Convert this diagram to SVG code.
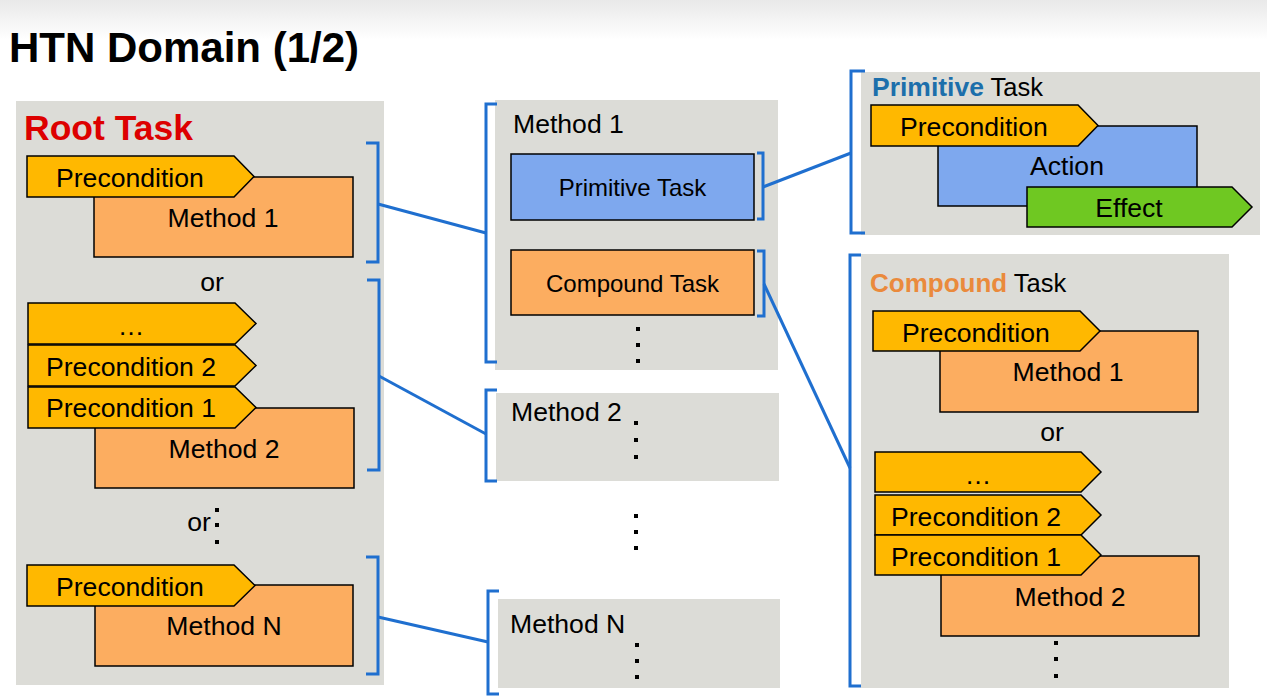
<svg xmlns="http://www.w3.org/2000/svg" width="1267" height="698" viewBox="0 0 1267 698">
<defs>
<linearGradient id="topbg" x1="0" y1="0" x2="0" y2="1">
<stop offset="0" stop-color="#e9e9e9"/>
<stop offset="1" stop-color="#ffffff"/>
</linearGradient>
</defs>
<style>
text{font-family:"Liberation Sans",Arial,sans-serif;fill:#000}
.panel{fill:#dcdcd7}
.pre{fill:#ffb800;stroke:#000;stroke-width:1.5}
.meth{fill:#fcad60;stroke:#000;stroke-width:1.5}
.blue{fill:#7ea8ee;stroke:#000;stroke-width:1.5}
.green{fill:#6fc822;stroke:#000;stroke-width:1.5}
.br{fill:none;stroke:#1f6fcf;stroke-width:3}
.con{fill:none;stroke:#1f6fcf;stroke-width:3}
.t26{font-size:26.6px}
.t23{font-size:24px}
.dot{fill:#000}
</style>
<rect x="0" y="0" width="1267" height="698" fill="#ffffff"/>
<rect x="0" y="0" width="1267" height="40" fill="url(#topbg)"/>
<text x="9" y="62" font-size="42" font-weight="bold">HTN Domain (1/2)</text>

<g id="root-task">
<rect class="panel" x="16" y="101" width="368" height="584"/>
<text x="24" y="140" font-size="35.5" font-weight="bold" style="fill:#dd0000">Root Task</text>
<rect class="meth" x="94" y="177" width="259" height="80"/>
<polygon class="pre" points="27,156 234,156 254,176.5 234,197 27,197"/>
<text class="t26" x="56" y="187">Precondition</text>
<text class="t26" x="223" y="227" text-anchor="middle">Method 1</text>
<text class="t26" x="212" y="291" text-anchor="middle">or</text>
<rect class="meth" x="95" y="408" width="259" height="80"/>
<polygon class="pre" points="28,303 235,303 256,323.5 235,344 28,344"/>
<polygon class="pre" points="28,345 235,345 256,365.5 235,386 28,386"/>
<polygon class="pre" points="28,387 235,387 256,407.5 235,428 28,428"/>
<text class="t26" x="131" y="335" text-anchor="middle">…</text>
<text class="t26" x="46" y="376">Precondition 2</text>
<text class="t26" x="46" y="417">Precondition 1</text>
<text class="t26" x="224" y="458" text-anchor="middle">Method 2</text>
<text class="t26" x="199" y="531" text-anchor="middle">or</text>
<rect class="dot" x="215" y="508" width="4" height="4"/>
<rect class="dot" x="215" y="523" width="4" height="4"/>
<rect class="dot" x="215" y="540" width="4" height="4"/>
<rect class="meth" x="95" y="585" width="258" height="81"/>
<polygon class="pre" points="27,565 234,565 255,585.5 234,606 27,606"/>
<text class="t26" x="56" y="596">Precondition</text>
<text class="t26" x="224" y="635" text-anchor="middle">Method N</text>
<path class="br" d="M366,143 H378 V262 H366"/>
<path class="br" d="M367,280 H379 V470 H367"/>
<path class="br" d="M366,557 H378 V674 H366"/>
</g>

<g id="method1">
<rect class="panel" x="495" y="100" width="283" height="270"/>
<path class="br" d="M497,104 H486 V362 H497"/>
<text class="t26" x="513" y="133">Method 1</text>
<rect class="blue" x="511" y="154" width="243" height="66"/>
<text class="t23" x="632.5" y="196" text-anchor="middle">Primitive Task</text>
<rect class="meth" x="511" y="250" width="243" height="65"/>
<text class="t23" x="632.5" y="292" text-anchor="middle">Compound Task</text>
<path class="br" d="M757,153 H763 V219 H757"/>
<path class="br" d="M757,251 H764 V316 H757"/>
<rect class="dot" x="636" y="327" width="4" height="4"/>
<rect class="dot" x="636" y="343" width="4" height="4"/>
<rect class="dot" x="636" y="359" width="4" height="4"/>
</g>

<g id="method2">
<rect class="panel" x="496" y="393" width="283" height="88"/>
<path class="br" d="M497,390 H486 V481 H497"/>
<text class="t26" x="511" y="421">Method 2</text>
<rect class="dot" x="634" y="421" width="4" height="4"/>
<rect class="dot" x="634" y="438" width="4" height="4"/>
<rect class="dot" x="634" y="455" width="4" height="4"/>
</g>

<g id="method-gap">
<rect class="dot" x="634" y="514" width="4" height="4"/>
<rect class="dot" x="634" y="530" width="4" height="4"/>
<rect class="dot" x="634" y="546" width="4" height="4"/>
</g>

<g id="methodN">
<rect class="panel" x="498" y="599" width="282" height="89"/>
<path class="br" d="M499,591 H488 V694 H499"/>
<text class="t26" x="510" y="633">Method N</text>
<rect class="dot" x="635" y="643" width="4" height="4"/>
<rect class="dot" x="635" y="659" width="4" height="4"/>
<rect class="dot" x="635" y="675" width="4" height="4"/>
</g>

<g id="primitive-task">
<rect class="panel" x="861" y="72" width="399" height="163"/>
<path class="br" d="M865,71 H851 V233 H865"/>
<text x="872" y="96" font-size="25.5"><tspan font-weight="bold" font-size="26.5" style="fill:#1c6fab">Primitive</tspan> Task</text>
<rect class="blue" x="938" y="126" width="259" height="80"/>
<polygon class="pre" points="871,105 1078,105 1098,125.5 1078,146 871,146"/>
<text class="t26" x="900" y="136">Precondition</text>
<text class="t26" x="1067" y="175" text-anchor="middle">Action</text>
<polygon class="green" points="1027,187 1232,187 1252,207 1232,227 1027,227"/>
<text class="t26" x="1129" y="217" text-anchor="middle">Effect</text>
</g>

<g id="compound-task">
<rect class="panel" x="861" y="254" width="368" height="434"/>
<path class="br" d="M861,255 H850 V686 H861"/>
<text x="870" y="292" font-size="25.5"><tspan font-weight="bold" font-size="26" style="fill:#ea8a3c">Compound</tspan> Task</text>
<rect class="meth" x="940" y="331" width="258" height="81"/>
<polygon class="pre" points="873,311 1080,311 1100,331 1080,351 873,351"/>
<text class="t26" x="902" y="342">Precondition</text>
<text class="t26" x="1068" y="381" text-anchor="middle">Method 1</text>
<text class="t26" x="1052" y="441" text-anchor="middle">or</text>
<rect class="meth" x="941" y="556" width="258" height="80"/>
<polygon class="pre" points="875,452 1081,452 1101,472 1081,492 875,492"/>
<polygon class="pre" points="875,495 1081,495 1101,515 1081,535 875,535"/>
<polygon class="pre" points="875,535 1081,535 1101,555 1081,575 875,575"/>
<text class="t26" x="978" y="484" text-anchor="middle">…</text>
<text class="t26" x="891" y="526">Precondition 2</text>
<text class="t26" x="891" y="566">Precondition 1</text>
<text class="t26" x="1070" y="606" text-anchor="middle">Method 2</text>
<rect class="dot" x="1054" y="641" width="4" height="4"/>
<rect class="dot" x="1054" y="657" width="4" height="4"/>
<rect class="dot" x="1054" y="674" width="4" height="4"/>
</g>

<g id="connectors">
<line class="con" x1="378" y1="204" x2="486" y2="233"/>
<line class="con" x1="379" y1="376" x2="486" y2="434"/>
<line class="con" x1="378" y1="617" x2="488" y2="642"/>
<line class="con" x1="763" y1="187" x2="851" y2="153"/>
<line class="con" x1="764" y1="284" x2="850" y2="468"/>
</g>
</svg>
